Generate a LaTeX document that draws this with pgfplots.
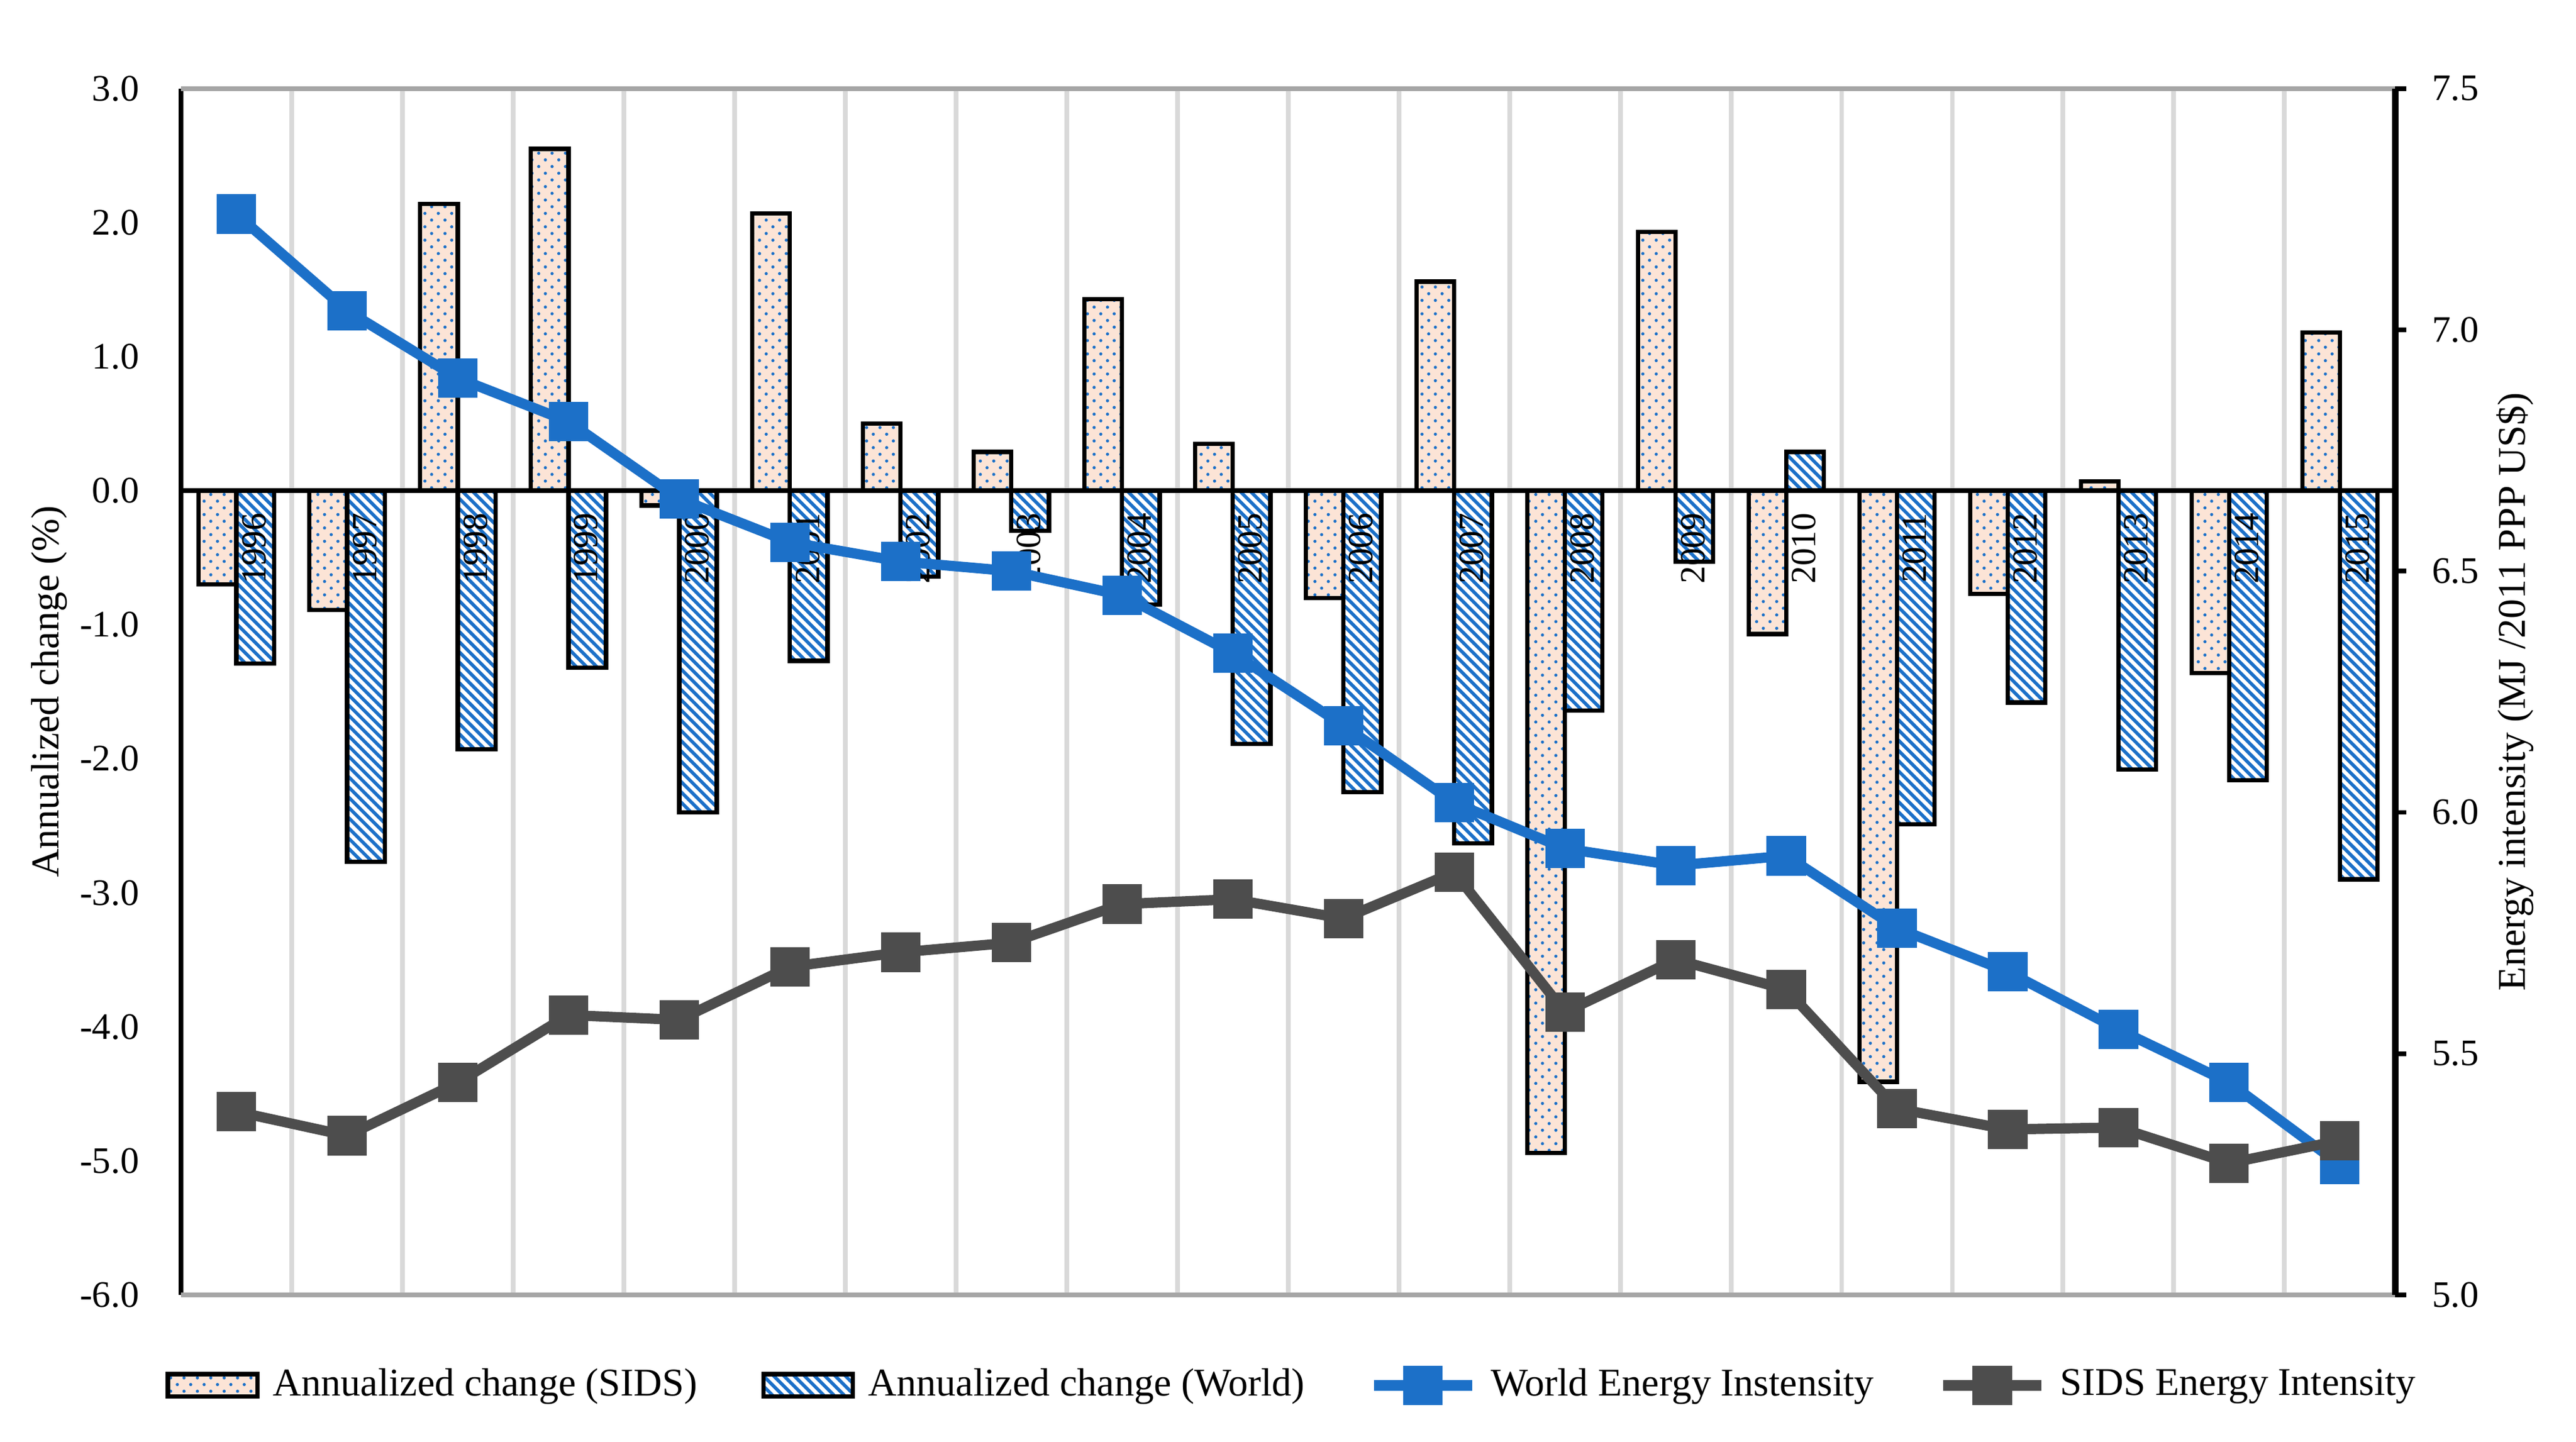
\documentclass[border=0pt]{standalone}
\usepackage{fontspec}
\setmainfont{Liberation Serif}
\usepackage{pgfplots}
\usepackage{pgfplotstable}
\pgfplotsset{compat=1.18}
\usetikzlibrary{patterns}

\definecolor{peach}{RGB}{252,228,214}
\definecolor{wblue}{RGB}{28,112,200}
\definecolor{sgrey}{RGB}{77,77,77}
\definecolor{gridgrey}{RGB}{217,217,217}
\definecolor{bordergrey}{RGB}{166,166,166}

% denser variants of the dots and north west lines patterns
\pgfdeclarepatternformonly{sidsdots}{\pgfqpoint{-1pt}{-1pt}}{\pgfqpoint{4.5pt}{4.5pt}}{\pgfqpoint{3.4pt}{3.4pt}}{%
  \pgfpathcircle{\pgfqpoint{0.85pt}{0.85pt}}{0.4pt}%
  \pgfpathcircle{\pgfqpoint{2.55pt}{2.55pt}}{0.4pt}%
  \pgfusepath{fill}}
\pgfdeclarepatternformonly{worldstripes}{\pgfqpoint{-1pt}{-1pt}}{\pgfqpoint{3.6pt}{3.6pt}}{\pgfqpoint{2.6pt}{2.6pt}}{%
  \pgfsetlinewidth{0.85pt}%
  \pgfpathmoveto{\pgfqpoint{0pt}{2.6pt}}%
  \pgfpathlineto{\pgfqpoint{2.7pt}{-0.1pt}}%
  \pgfusepath{stroke}}

% year, annualized change SIDS / World (%), energy intensity World / SIDS
\pgfplotstableread{
year sids  world wei   sei
1996 -0.70 -1.29 7.24  5.38
1997 -0.89 -2.77 7.04  5.33
1998  2.14 -1.93 6.90  5.44
1999  2.55 -1.32 6.81  5.58
2000 -0.11 -2.40 6.65  5.57
2001  2.07 -1.27 6.56  5.68
2002  0.50 -0.64 6.52  5.71
2003  0.29 -0.30 6.50  5.73
2004  1.43 -0.85 6.45  5.81
2005  0.35 -1.89 6.33  5.82
2006 -0.80 -2.25 6.18  5.78
2007  1.56 -2.63 6.02  5.876
2008 -4.94 -1.64 5.925 5.586
2009  1.93 -0.53 5.89  5.695
2010 -1.07  0.29 5.91  5.633
2011 -4.41 -2.49 5.76  5.386
2012 -0.77 -1.58 5.67  5.343
2013  0.07 -2.08 5.55  5.347
2014 -1.36 -2.16 5.44  5.273
2015  1.18 -2.90 5.27  5.32
}\data

\tikzset{
  sidsfill/.style={draw=black, line width=1.1pt, fill=peach,
    postaction={pattern=sidsdots, pattern color=wblue}},
  worldfill/.style={draw=black, line width=1.1pt,
    pattern=worldstripes, pattern color=wblue},
}
\pgfplotsset{
  boxlegend/.style={legend image code/.code={\path[##1] (0cm,-0.1cm) rectangle (0.8cm,0.1cm);}},
  linelegend/.style={legend image code/.code={\draw[mark repeat=2, mark phase=2, ##1]
    plot coordinates {(0cm,0cm) (0.44cm,0cm) (0.88cm,0cm)};}},
}

\begin{document}
\begin{tikzpicture}
\begin{axis}[
  scale only axis, width=19.77cm, height=10.77cm,
  xmin=1995.5, xmax=2015.5,
  ymin=-6, ymax=3,
  axis y line=left, axis x line=middle,
  x axis line style={-, black, line width=1.2pt},
  y axis line style={-, black, line width=1.2pt},
  axis on top,
  /pgf/number format/assume math mode=true,
  xtick={1996,1997,...,2015},
  xticklabels={1996,1997,1998,1999,2000,2001,2002,2003,2004,2005,2006,2007,2008,2009,2010,2011,2012,2013,2014,2015},
  xtick style={draw=none},
  xticklabel style={rotate=90, anchor=east, font=\fontsize{9}{10}\selectfont, yshift=-4.5pt},
  minor xtick={1996.5,1997.5,...,2014.5},
  xminorgrids, minor x grid style={gridgrey, line width=1.2pt},
  minor tick length=0pt,
  ytick={-6,-5,...,3},
  ytick style={draw=none},
  yticklabel style={/pgf/number format/.cd, fixed, fixed zerofill, precision=1, /tikz/.cd,
    font=\fontsize{9.5}{11}\selectfont, xshift=-5pt},
  ylabel={Annualized change (\%)},
  every axis y label/.style={at={(axis description cs:-0.0594,0.5)}, anchor=center, rotate=90,
    font=\fontsize{10}{12}\selectfont},
  bar width=0.34,
]
\addplot[ybar, sidsfill, bar shift=-0.17] table[x=year, y=sids] {\data};
\addplot[ybar, worldfill, bar shift=0.17] table[x=year, y=world] {\data};
\end{axis}

\begin{axis}[
  scale only axis, width=19.77cm, height=10.77cm,
  xmin=1995.5, xmax=2015.5,
  ymin=5, ymax=7.5,
  axis y line=right, axis x line=box,
  x axis line style={-, bordergrey, line width=1.2pt},
  y axis line style={-, black, line width=1.6pt},
  /pgf/number format/assume math mode=true,
  xtick=\empty,
  ytick={5,5.5,...,7.5},
  tick align=outside, major tick length=2.8pt,
  ytick style={black, line width=1.2pt},
  yticklabel style={/pgf/number format/.cd, fixed, fixed zerofill, precision=1, /tikz/.cd,
    font=\fontsize{9.5}{11}\selectfont, xshift=3pt},
  ylabel={Energy intensity (MJ /2011 PPP US\$)},
  every axis y label/.style={at={(axis description cs:1.054,0.5)}, anchor=center, rotate=90,
    font=\fontsize{10}{12}\selectfont},
  legend style={draw=none, at={(0.503,-0.075)}, anchor=center, legend columns=4,
    font=\fontsize{10}{12}\selectfont,
    /tikz/every odd column/.append style={column sep=0.05cm},
    /tikz/every even column/.append style={column sep=0.5cm}},
]
\addlegendimage{sidsfill, boxlegend}
\addlegendentry{Annualized change (SIDS)}
\addlegendimage{worldfill, boxlegend}
\addlegendentry{Annualized change (World)}
\addplot[wblue, line width=2.6pt, mark=square*, mark size=3.7pt,
  mark options={draw=none, fill=wblue}, linelegend]
  table[x=year, y=wei] {\data};
\addlegendentry{World Energy Instensity}
\addplot[sgrey, line width=2.6pt, mark=square*, mark size=3.7pt,
  mark options={draw=none, fill=sgrey}, linelegend]
  table[x=year, y=sei] {\data};
\addlegendentry{SIDS Energy Intensity}
\end{axis}
\pgfresetboundingbox
\path[use as bounding box] (-1.616cm,-1.308cm) rectangle (21.384cm,11.561cm);
\end{tikzpicture}
\end{document}
